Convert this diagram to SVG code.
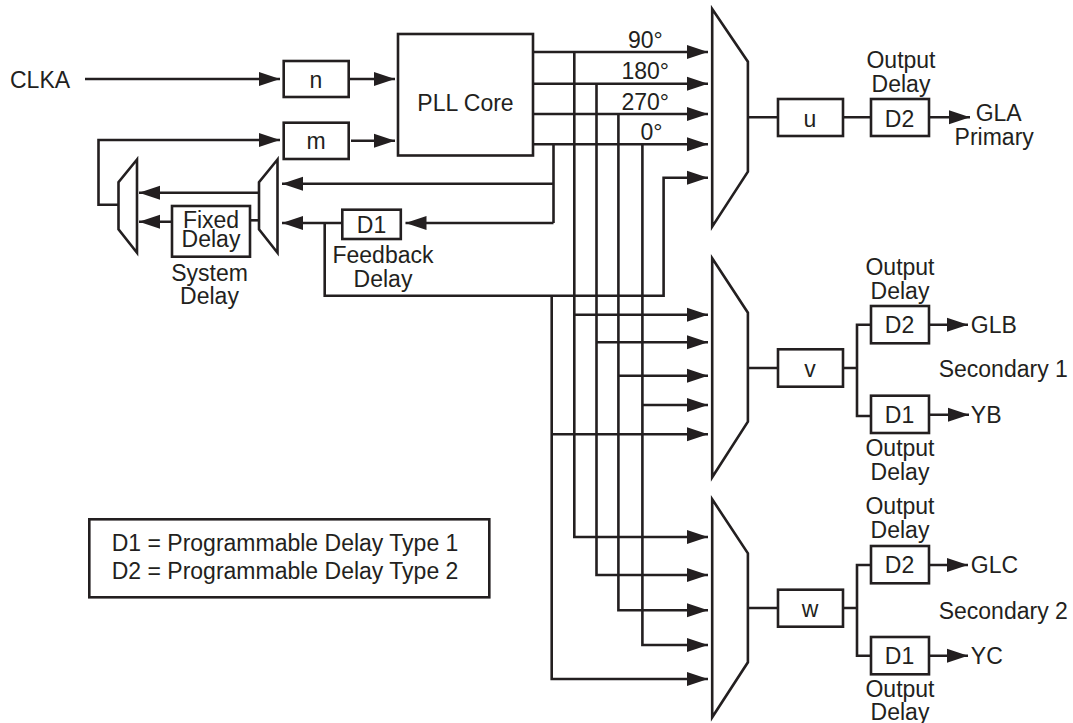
<svg xmlns="http://www.w3.org/2000/svg" width="1073" height="723" viewBox="0 0 1073 723">
<style>
text{font-family:"Liberation Sans",Arial,sans-serif;font-size:23px;fill:#231f20}
.c{text-anchor:middle}
.b{fill:#fff;stroke:#231f20;stroke-width:2.6}
.n{fill:none;stroke:#231f20;stroke-width:2.6;stroke-linejoin:miter}
.a{marker-end:url(#h)}
</style>
<defs>
<marker id="h" markerUnits="userSpaceOnUse" markerWidth="22" markerHeight="16" refX="21" refY="7" orient="auto" overflow="visible"><path d="M0 0L21 7L0 14Z" fill="#231f20"/></marker>
</defs>
<rect width="1073" height="723" fill="#fff"/>
<g id="connectors" class="n">
<path class="a" d="M85 79H280"/>
<path class="a" d="M349 79H395"/>
<path class="a" d="M351 140.7H395"/>
<path class="a" d="M118 204.7H98.5V140H280"/>
<path class="a" d="M258 192.7H139"/>
<path class="a" d="M172 221.7H139"/>
<path d="M250 220.3H259"/>
<path class="a" d="M553.500 183.700H282"/>
<path class="a" d="M553.500 223H405.500"/>
<path class="a" d="M342.300 223H282"/>
<path d="M553.500 144.300V223"/>
<path class="a" d="M324.700 223V295.700H663.600V177.700H708"/>
<path class="a" d="M533 52H708"/>
<path class="a" d="M533 83.700H708"/>
<path class="a" d="M533 114H708"/>
<path class="a" d="M533 144.300H708"/>
<path class="a" d="M574.300 52V537H708"/>
<path class="a" d="M596.500 83.700V575H708"/>
<path class="a" d="M618.400 114V610.300H708"/>
<path class="a" d="M642.400 144.300V645H708"/>
<path class="a" d="M551.700 295.700V679H708"/>
<path class="a" d="M574.300 314.700H708"/>
<path class="a" d="M596.500 342.300H708"/>
<path class="a" d="M618.400 375.700H708"/>
<path class="a" d="M642.400 405H708"/>
<path class="a" d="M551.700 434.300H708"/>
<path d="M748 117.300H778M843 117.300H871"/>
<path class="a" d="M929 117.300H970"/>
<path d="M746 368H778M843 368H857M871 324.700H857V416H871"/>
<path class="a" d="M929 324.700H968"/>
<path class="a" d="M929 414.700H969"/>
<path d="M748 608H778M843 608H857M871 565H857V655.700H871"/>
<path class="a" d="M929 565H968"/>
<path class="a" d="M929 655.700H968"/>
</g>
<g id="clka"><text x="10" y="88.300">CLKA</text></g>
<g id="n"><rect class="b" x="283.700" y="61" width="65" height="36"/><text class="c" x="316" y="88">n</text></g>
<g id="m"><rect class="b" x="283.700" y="122.700" width="65" height="36.300"/><text class="c" x="316" y="149">m</text></g>
<g id="pll"><rect class="b" x="398" y="34" width="135" height="121.500"/><text class="c" x="465.500" y="110.700">PLL Core</text></g>
<g id="mux-system"><path class="b" d="M137 159.500L118.500 182.300V229.300L137 252.700Z"/></g>
<g id="mux-feedback"><path class="b" d="M277.500 159.500L259 182.300V229.300L277.500 252.700Z"/></g>
<g id="fixed"><rect class="b" x="172" y="206" width="78" height="50.700"/><text class="c" x="211" y="228">Fixed</text><text class="c" x="211" y="247">Delay</text></g>
<g id="system-label"><text class="c" x="209.500" y="280.500">System</text><text class="c" x="209.500" y="304">Delay</text></g>
<g id="d1-feedback"><rect class="b" x="342.300" y="209.700" width="58.500" height="29.300"/><text class="c" x="371.500" y="233">D1</text></g>
<g id="feedback-label"><text class="c" x="383" y="262.500">Feedback</text><text class="c" x="383" y="286.500">Delay</text></g>
<g id="phases"><text x="628" y="47.700">90°</text><text x="621.500" y="78.700">180°</text><text x="621.500" y="110">270°</text><text x="640.500" y="140">0°</text></g>
<g id="mux-u"><path class="b" d="M712.200 9L747.900 61.700V171.700L712.200 226.700Z"/></g>
<g id="u"><rect class="b" x="778" y="99" width="65" height="37"/><text class="c" x="810" y="126.700">u</text></g>
<g id="d2-a"><rect class="b" x="871" y="99" width="58" height="37"/><text class="c" x="899.500" y="126.700">D2</text><text class="c" x="901" y="68">Output</text><text class="c" x="901" y="92">Delay</text></g>
<g id="gla"><text x="975.700" y="120.700">GLA</text><text x="954.600" y="144.700">Primary</text></g>
<g id="mux-v"><path class="b" d="M712.200 258.300L747.900 312.700V421.700L712.200 477.300Z"/></g>
<g id="v"><rect class="b" x="778" y="349.300" width="65" height="37.400"/><text class="c" x="810" y="376.700">v</text></g>
<g id="d2-b"><rect class="b" x="871" y="306" width="58" height="37.300"/><text class="c" x="899.500" y="333.300">D2</text><text class="c" x="900" y="275">Output</text><text class="c" x="900" y="299">Delay</text></g>
<g id="d1-b"><rect class="b" x="871" y="395.700" width="58" height="37.300"/><text class="c" x="899.500" y="423.300">D1</text><text class="c" x="900" y="456">Output</text><text class="c" x="900" y="480">Delay</text></g>
<g id="sec1"><text x="970.800" y="333.300">GLB</text><text x="938.700" y="376.700">Secondary 1</text><text x="970.800" y="423.300">YB</text></g>
<g id="mux-w"><path class="b" d="M712.200 499.300L747.900 553.300V662.300L712.200 717.300Z"/></g>
<g id="w"><rect class="b" x="778" y="589.700" width="65" height="37"/><text class="c" x="810" y="616.700">w</text></g>
<g id="d2-c"><rect class="b" x="871" y="546" width="58" height="37.300"/><text class="c" x="899.500" y="573.300">D2</text><text class="c" x="900" y="514">Output</text><text class="c" x="900" y="538">Delay</text></g>
<g id="d1-c"><rect class="b" x="871" y="637" width="58" height="37.300"/><text class="c" x="899.500" y="664">D1</text><text class="c" x="900" y="696.700">Output</text><text class="c" x="900" y="720">Delay</text></g>
<g id="sec2"><text x="970.800" y="573.300">GLC</text><text x="938.700" y="618.700">Secondary 2</text><text x="970.800" y="664">YC</text></g>
<g id="legend"><rect class="b" x="89.300" y="519.300" width="400" height="78"/><text x="111.700" y="550.700">D1 = Programmable Delay Type 1</text><text x="111.700" y="579">D2 = Programmable Delay Type 2</text></g>
</svg>
